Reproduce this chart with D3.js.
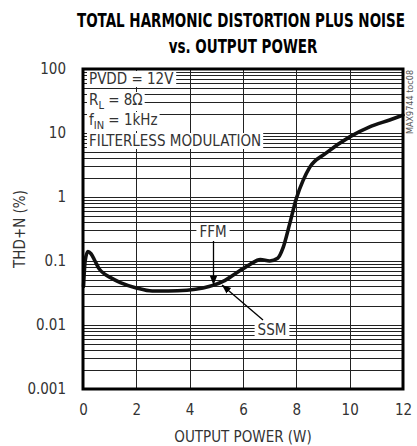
<!DOCTYPE html>
<html><head><meta charset="utf-8">
<script src="https://cdn.jsdelivr.net/npm/d3@7"></script>
<style>
html,body{margin:0;padding:0;background:#fff;}
svg{display:block;}
.t{font-family:"Liberation Sans Narrow","DejaVu Sans Condensed","Roboto Condensed",sans-serif;fill:#333;}
</style></head>
<body>
<svg id="c" width="417" height="446"></svg>
<script>
// ---- data ----
const powerW = [0.02, 0.08, 0.18, 0.3, 0.45, 0.6, 0.8, 1.0, 1.4, 2.0, 2.6, 3.2, 3.9, 4.5, 4.9, 5.25, 5.75, 6.25, 6.65, 7.0, 7.3, 7.5, 7.75, 8.0, 8.25, 8.5, 9.1, 10.0, 10.75, 11.5, 12.0];
const thdN   = [0.04, 0.1, 0.14, 0.13, 0.1, 0.076, 0.063, 0.056, 0.046, 0.038, 0.034, 0.034, 0.035, 0.038, 0.042, 0.048, 0.065, 0.088, 0.105, 0.1, 0.11, 0.16, 0.38, 0.95, 1.8, 2.9, 4.8, 8.7, 12.5, 16, 19];
const xTicks = [0, 2, 4, 6, 8, 10, 12];
const yTicks = [100, 10, 1, 0.1, 0.01, 0.001];
const yTickLabels = ["100", "10", "1", "0.1", "0.01", "0.001"];
const conditions = ["PVDD = 12V", "R|L| = 8Ω", "f|IN| = 1kHz", "FILTERLESS MODULATION"];

const svg = d3.select("#c");
const L = 83, R = 403, T = 69, B = 389;
const x = d3.scaleLinear().domain([0, 12]).range([L, R]);
const y = d3.scaleLog().domain([0.001, 100]).range([B, T]);

// title
function title(txt, cx, by) {
  const t = svg.append("text").attr("transform", `translate(${cx},${by}) scale(1,1.3)`).attr("text-anchor", "middle")
    .style("font-family", "'DejaVu Sans Condensed','Liberation Sans Narrow',sans-serif")
    .style("font-weight", "bold").style("font-size", "15px").style("fill", "#000").text(txt);
  return t;
}
title("TOTAL HARMONIC DISTORTION PLUS NOISE", 241, 27);
title("vs. OUTPUT POWER", 243, 53);

// gridlines
const g = svg.append("g");
const hVals = [];
for (let e = -3; e < 2; e++) for (let m = 1; m <= 9; m++) hVals.push(m * Math.pow(10, e));
hVals.push(100);
g.selectAll("line.h").data(hVals).enter().append("line")
  .attr("x1", L).attr("x2", R).attr("y1", d => Math.round(y(d)) + 0.5).attr("y2", d => Math.round(y(d)) + 0.5)
  .attr("stroke", "#222").attr("stroke-width", 1);
g.selectAll("line.v").data(xTicks).enter().append("line")
  .attr("x1", d => Math.round(x(d)) + 0.5).attr("x2", d => Math.round(x(d)) + 0.5).attr("y1", T).attr("y2", B)
  .attr("stroke", "#222").attr("stroke-width", 1);

// tick labels via axes
const xAxis = d3.axisBottom(x).tickValues(xTicks).tickSize(0).tickPadding(0);
const xa = svg.append("g").attr("transform", `translate(0,${B + 15})`).call(xAxis);
xa.select(".domain").remove();
xa.selectAll("text").attr("class", "t").style("font-size", "15px").attr("dy", "0.71em");

const yAxis = d3.axisLeft(y).tickValues(yTicks).tickFormat((d, i) => yTickLabels[i]).tickSize(0).tickPadding(0);
const ya = svg.append("g").attr("transform", `translate(${L - 17},0)`).call(yAxis);
ya.select(".domain").remove();
ya.selectAll("text").attr("class", "t").style("font-size", "15px");

// axis titles
svg.append("text").attr("class", "t").attr("x", 243).attr("y", 442).attr("text-anchor", "middle")
  .style("font-size", "15px").text("OUTPUT POWER (W)");
svg.append("text").attr("class", "t").attr("transform", "translate(25,229) rotate(-90)")
  .attr("text-anchor", "middle").style("font-size", "15px").text("THD+N (%)");

// condition labels with white background
const condY = [84, 105, 125, 146];
conditions.forEach((c, i) => {
  const grp = svg.append("g");
  const rect = grp.append("rect").attr("fill", "#fff");
  const tx = grp.append("text").attr("class", "t").attr("x", 89).attr("y", condY[i]).style("font-size", "15px");
  c.split("|").forEach((part, j) => {
    const ts = tx.append("tspan").text(part);
    if (j === 1) ts.attr("dy", 4).style("font-size", "11px");
    if (j === 2) ts.attr("dy", -4);
  });
  const bb = tx.node().getBBox();
  rect.attr("x", bb.x - 2).attr("y", bb.y + 1).attr("width", bb.width + 4).attr("height", bb.height - 2);
});

// curve
const line = d3.line().x((d, i) => x(powerW[i])).y(d => y(d)).curve(d3.curveMonotoneX);
svg.append("path").attr("d", line(thdN)).attr("fill", "none").attr("stroke", "#111")
  .attr("stroke-width", 3.6).attr("stroke-linejoin", "round").attr("stroke-linecap", "round");

// annotations
function label(txt, cx, cy) {
  const grp = svg.append("g");
  const rect = grp.append("rect").attr("fill", "#fff");
  const t = grp.append("text").attr("class", "t").attr("x", cx).attr("y", cy).attr("text-anchor", "middle")
    .attr("dominant-baseline", "central").style("font-size", "15px").text(txt);
  const bb = t.node().getBBox();
  rect.attr("x", bb.x - 3).attr("y", bb.y + 1).attr("width", bb.width + 6).attr("height", bb.height - 2);
}
const defs = svg.append("defs");
defs.append("marker").attr("id", "ah").attr("viewBox", "0 0 10 10").attr("refX", 10).attr("refY", 5)
  .attr("markerWidth", 9).attr("markerHeight", 9).attr("markerUnits", "userSpaceOnUse").attr("orient", "auto")
  .append("path").attr("d", "M0,1 L10,5 L0,9 Z").attr("fill", "#000");

label("FFM", 213, 232);
svg.append("line").attr("x1", 213.5).attr("y1", 241).attr("x2", 213.5).attr("y2", 285)
  .attr("stroke", "#000").attr("stroke-width", 1.3).attr("marker-end", "url(#ah)");
label("SSM", 272, 330);
svg.append("line").attr("x1", 263).attr("y1", 320).attr("x2", 222).attr("y2", 285)
  .attr("stroke", "#000").attr("stroke-width", 1.3).attr("marker-end", "url(#ah)");

// border
svg.append("rect").attr("x", L).attr("y", T).attr("width", R - L).attr("height", B - T)
  .attr("fill", "none").attr("stroke", "#000").attr("stroke-width", 3);

// side id
svg.append("text").attr("class", "t").attr("transform", "translate(413,102) rotate(-90)")
  .attr("text-anchor", "middle").style("font-size", "9px").style("fill", "#555").text("MAX9744 toc08");
</script>
</body></html>
